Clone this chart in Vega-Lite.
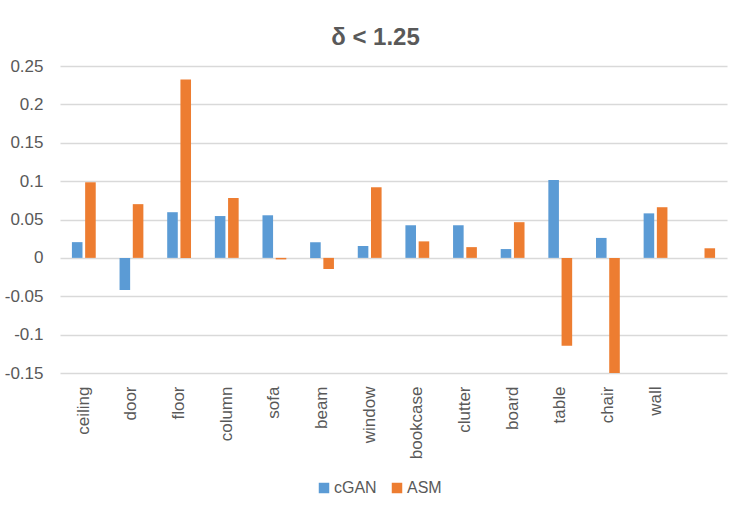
{
  "$schema": "https://vega.github.io/schema/vega-lite/v6.json",
  "autosize": "none",
  "width": 667,
  "height": 307,
  "padding": {"left": 60, "top": 66, "right": 23, "bottom": 140},
  "background": "white",
  "title": {
    "text": "δ < 1.25",
    "font": "Liberation Sans",
    "fontSize": 24,
    "fontWeight": "bold",
    "color": "#595959",
    "anchor": "middle",
    "frame": "group",
    "baseline": "alphabetic",
    "offset": -12,
    "dx": -18
  },
  "config": {
    "view": {"stroke": null},
    "font": "Liberation Sans"
  },
  "data": {
    "values": [
      {"category": "ceiling", "series": "cGAN", "value": 0.0205},
      {"category": "ceiling", "series": "ASM", "value": 0.0985},
      {"category": "door", "series": "cGAN", "value": -0.042},
      {"category": "door", "series": "ASM", "value": 0.070},
      {"category": "floor", "series": "cGAN", "value": 0.0595},
      {"category": "floor", "series": "ASM", "value": 0.2325},
      {"category": "column", "series": "cGAN", "value": 0.0545},
      {"category": "column", "series": "ASM", "value": 0.078},
      {"category": "sofa", "series": "cGAN", "value": 0.0555},
      {"category": "sofa", "series": "ASM", "value": -0.002},
      {"category": "beam", "series": "cGAN", "value": 0.0205},
      {"category": "beam", "series": "ASM", "value": -0.0145},
      {"category": "window", "series": "cGAN", "value": 0.0155},
      {"category": "window", "series": "ASM", "value": 0.092},
      {"category": "bookcase", "series": "cGAN", "value": 0.0425},
      {"category": "bookcase", "series": "ASM", "value": 0.0215},
      {"category": "clutter", "series": "cGAN", "value": 0.0425},
      {"category": "clutter", "series": "ASM", "value": 0.014},
      {"category": "board", "series": "cGAN", "value": 0.0115},
      {"category": "board", "series": "ASM", "value": 0.0465},
      {"category": "table", "series": "cGAN", "value": 0.1015},
      {"category": "table", "series": "ASM", "value": -0.1145},
      {"category": "chair", "series": "cGAN", "value": 0.026},
      {"category": "chair", "series": "ASM", "value": -0.17},
      {"category": "wall", "series": "cGAN", "value": 0.058},
      {"category": "wall", "series": "ASM", "value": 0.066},
      {"category": " ", "series": "ASM", "value": 0.0125}
    ]
  },
  "mark": {"type": "bar", "clip": true},
  "encoding": {
    "x": {
      "field": "category",
      "type": "nominal",
      "sort": ["ceiling", "door", "floor", "column", "sofa", "beam", "window", "bookcase", "clutter", "board", "table", "chair", "wall", " "],
      "scale": {"paddingInner": 0.5, "paddingOuter": 0.25},
      "axis": {
        "title": null,
        "domain": false,
        "ticks": false,
        "grid": false,
        "labelAngle": -90,
        "labelPadding": 13,
        "labelFontSize": 17,
        "labelColor": "#595959",
        "labelFont": "Liberation Sans"
      }
    },
    "xOffset": {
      "field": "series",
      "type": "nominal",
      "sort": ["cGAN", "ASM"],
      "scale": {"paddingInner": 0.2}
    },
    "y": {
      "field": "value",
      "type": "quantitative",
      "scale": {"domain": [-0.15, 0.25], "nice": false, "zero": false},
      "axis": {
        "title": null,
        "domain": false,
        "ticks": false,
        "tickSize": 0,
        "values": [-0.15, -0.1, -0.05, 0, 0.05, 0.1, 0.15, 0.2, 0.25],
        "labelExpr": "replace(format(datum.value, '.2~f'), '\u2212', '-')",
        "labelPadding": 17,
        "labelFontSize": 17,
        "labelColor": "#595959",
        "labelFont": "Liberation Sans",
        "grid": true,
        "gridColor": "#D9D9D9",
        "gridWidth": 1.5
      }
    },
    "color": {
      "field": "series",
      "type": "nominal",
      "sort": ["cGAN", "ASM"],
      "scale": {"domain": ["cGAN", "ASM"], "range": ["#5B9BD5", "#ED7D31"]},
      "legend": {
        "title": null,
        "orient": "none",
        "legendX": 256,
        "legendY": 414,
        "direction": "horizontal",
        "symbolType": "square",
        "symbolSize": 110,
        "symbolStrokeWidth": 0,
        "symbolOpacity": 1,
        "labelFontSize": 16,
        "labelColor": "#595959",
        "labelFont": "Liberation Sans",
        "labelOffset": 2,
        "columnPadding": 12,
        "padding": 0
      }
    }
  }
}
